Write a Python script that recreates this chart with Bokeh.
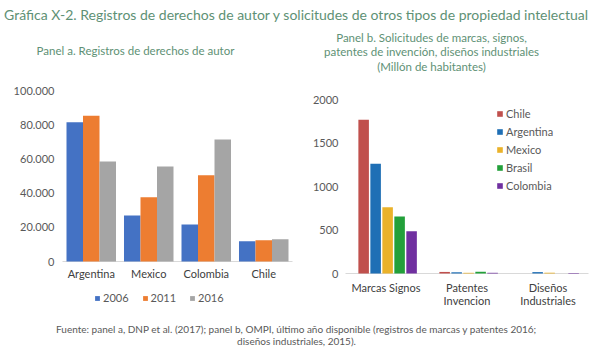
from bokeh.plotting import figure
from bokeh.models import ColumnDataSource, Range1d, Legend, LegendItem
from bokeh.core.properties import value
from bokeh.transform import dodge
from bokeh.embed import file_html
from bokeh.resources import INLINE

FONT = "Lato"

# ---------------- data ----------------
paises_a = ["Argentina", "Mexico", "Colombia", "Chile"]
anios = ["2006", "2011", "2016"]
v2006 = [81500, 26900, 21600, 11900]
v2011 = [85200, 37600, 50500, 12500]
v2016 = [58500, 55600, 71300, 13000]
colores_a = ["#4472C4", "#ED7D31", "#A5A5A5"]
ticks_a = [0, 20000, 40000, 60000, 80000, 100000]

tipos_b = ["Marcas Signos", "Patentes\nInvencion", "Diseños\nIndustriales"]
paises_b = ["Chile", "Argentina", "Mexico", "Brasil", "Colombia"]
chile = [1767, 18, 0]
argentina = [1261, 14, 16]
mexico = [762, 8, 9]
brasil = [655, 20, 0]
colombia = [486, 8, 6]
colores_b = ["#C0504D", "#1F6FB5", "#EAB22A", "#23A03A", "#7030A0"]
ticks_b = [0, 500, 1000, 1500, 2000]

titulo = "Gráfica X-2. Registros de derechos de autor y solicitudes de otros tipos de propiedad intelectual"
titulo_a = "Panel a. Registros de derechos de autor"
titulo_b = ["Panel b. Solicitudes de marcas, signos,",
            "patentes de invención, diseños industriales",
            "(Millón de habitantes)"]
fuente = ["Fuente: panel a, DNP et al. (2017); panel b, OMPI, último año disponible (registros de marcas y patentes 2016;",
          "diseños industriales, 2015)."]

# ---------------- layout (pixels) ----------------
W, H = 592, 357
A_LEFT, A_RIGHT, A_ZERO, A_TOP, A_MAX = 62, 292, 261, 90, 100000
B_LEFT, B_RIGHT, B_ZERO, B_TOP, B_MAX = 345, 588, 273, 99, 2000

GREEN = "#5E9175"
AXIS_TXT = "#595959"
CAT_TXT = "#404040"

p = figure(width=W, height=H, x_range=Range1d(0, W), y_range=Range1d(H, 0),
           x_axis_type=None, y_axis_type=None, min_border=0,
           toolbar_location=None, output_backend="svg")
p.outline_line_color = None
p.background_fill_color = "white"

ua = (A_RIGHT - A_LEFT) / len(paises_a)
ub = (B_RIGHT - B_LEFT) / len(tipos_b)
ka = A_MAX / (A_ZERO - A_TOP)
kb = B_MAX / (B_ZERO - B_TOP)
p.extra_x_ranges = {
    "ax": Range1d(-A_LEFT / ua - 0.5, (W - A_LEFT) / ua - 0.5),
    "bx": Range1d(-B_LEFT / ub - 0.5, (W - B_LEFT) / ub - 0.5),
}
p.extra_y_ranges = {
    "ay": Range1d((A_ZERO - H) * ka, A_ZERO * ka),
    "by": Range1d((B_ZERO - H) * kb, B_ZERO * kb),
}

# ---------------- panel a ----------------
src_a = ColumnDataSource(dict(i=list(range(len(paises_a))), v2006=v2006, v2011=v2011, v2016=v2016))
p.segment(x0=[-0.5], x1=[len(paises_a) - 0.5], y0=[0], y1=[0], line_color="#D9D9D9",
          line_width=1, x_range_name="ax", y_range_name="ay")
ra = []
for k, (col, c) in enumerate(zip(["v2006", "v2011", "v2016"], colores_a)):
    r = p.vbar(x=dodge("i", (k - 1) * 0.287), top=col, bottom=0, width=0.287, source=src_a,
               fill_color=c, line_color=None, x_range_name="ax", y_range_name="ay")
    ra.append(r)
p.text(x=[A_LEFT - 8] * len(ticks_a), y=ticks_a,
       text=[f"{t:,}".replace(",", ".") for t in ticks_a],
       text_font=value(FONT), text_font_size="11px", text_color=AXIS_TXT,
       text_align="right", text_baseline="middle", y_range_name="ay")
p.text(x=list(range(len(paises_a))), y=[A_ZERO + 12] * len(paises_a), text=paises_a,
       text_font=value(FONT), text_font_size="11px", text_color=CAT_TXT,
       text_align="center", text_baseline="middle", x_range_name="ax")
leg_a = Legend(items=[LegendItem(label=a, renderers=[r]) for a, r in zip(anios, ra)],
               orientation="horizontal", location=(94, H - 304),
               label_text_font=FONT, label_text_font_size="11px", label_text_color=AXIS_TXT,
               glyph_width=6, glyph_height=6, label_standoff=3, spacing=13, label_height=12,
               border_line_color=None, background_fill_alpha=0, padding=0, margin=0)
p.add_layout(leg_a)

# ---------------- panel b ----------------
src_b = ColumnDataSource(dict(i=list(range(len(tipos_b))), Chile=chile, Argentina=argentina,
                              Mexico=mexico, Brasil=brasil, Colombia=colombia))
p.segment(x0=[-0.5], x1=[len(tipos_b) - 0.5], y0=[0], y1=[0], line_color="#D9D9D9",
          line_width=1, x_range_name="bx", y_range_name="by")
rb = []
for k, (name, c) in enumerate(zip(paises_b, colores_b)):
    r = p.vbar(x=dodge("i", (k - 2) * 0.148 + 0.02), top=name, bottom=0, width=0.13, source=src_b,
               fill_color=c, line_color=None, x_range_name="bx", y_range_name="by")
    rb.append(r)
p.text(x=[B_LEFT - 7] * len(ticks_b), y=ticks_b, text=[str(t) for t in ticks_b],
       text_font=value(FONT), text_font_size="11px", text_color=AXIS_TXT,
       text_align="right", text_baseline="middle", y_range_name="by")
lineas1 = [t.split("\n")[0] for t in tipos_b]
lineas2 = [t.split("\n")[1] if "\n" in t else "" for t in tipos_b]
p.text(x=list(range(len(tipos_b))), y=[B_ZERO + 14] * len(tipos_b), text=lineas1,
       text_font=value(FONT), text_font_size="11px", text_color=CAT_TXT,
       text_align="center", text_baseline="middle", x_range_name="bx")
p.text(x=list(range(len(tipos_b))), y=[B_ZERO + 27] * len(tipos_b), text=lineas2,
       text_font=value(FONT), text_font_size="11px", text_color=CAT_TXT,
       text_align="center", text_baseline="middle", x_range_name="bx")
leg_b = Legend(items=[LegendItem(label=n, renderers=[r]) for n, r in zip(paises_b, rb)],
               location=(496, H - 192),
               label_text_font=FONT, label_text_font_size="11px", label_text_color=AXIS_TXT,
               glyph_width=7, glyph_height=7, label_standoff=3, spacing=5, label_height=12,
               border_line_color=None, background_fill_alpha=0, padding=0, margin=0)
p.add_layout(leg_b)

# ---------------- titles & source ----------------
p.text(x=[W / 2], y=[14], text=[titulo], text_font=value(FONT), text_font_size="14px",
       text_color=GREEN, text_align="center", text_baseline="middle")
p.text(x=[135], y=[50], text=[titulo_a], text_font=value(FONT), text_font_size="11.5px",
       text_color=GREEN, text_align="center", text_baseline="middle")
p.text(x=[431] * 3, y=[37, 51, 66], text=titulo_b, text_font=value(FONT), text_font_size="11.5px",
       text_color=GREEN, text_align="center", text_baseline="middle")
p.text(x=[W / 2] * 2, y=[328, 340], text=fuente, text_font=value(FONT), text_font_size="10px",
       text_color=AXIS_TXT, text_align="center", text_baseline="middle")

with open("out.html", "w") as f:
    f.write(file_html(p, INLINE))
